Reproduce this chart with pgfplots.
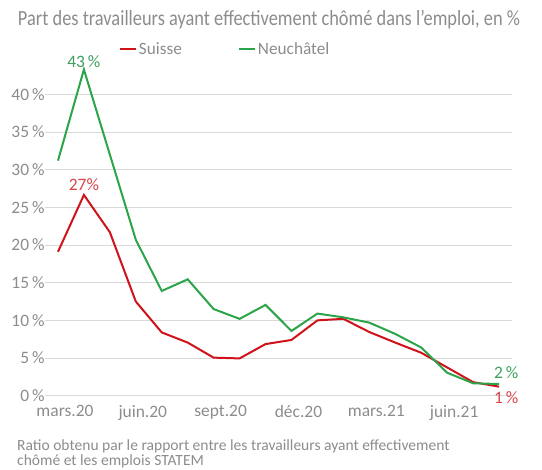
\documentclass[border=0pt]{standalone}
\usepackage{fontspec}
\setmainfont{Carlito}
\newfontfamily\titlefont[FakeStretch=0.85]{Carlito}
\usepackage{pgfplots}
\pgfplotsset{compat=1.18}
\definecolor{sred}{HTML}{D0121B}
\definecolor{ngreen}{HTML}{2CA44A}
\definecolor{lred}{HTML}{D9454A}
\definecolor{lgreen}{HTML}{3E9E5E}
\definecolor{txtgray}{HTML}{8C8C8C}
\definecolor{gridgray}{HTML}{D9D9D9}
\pgfplotstableread{
x suisse neuch
0 19.1 31.2
1 26.65 43.3
2 21.7 32.0
3 12.5 20.7
4 8.4 13.9
5 7.05 15.45
6 5.05 11.5
7 4.95 10.2
8 6.85 12.05
9 7.4 8.6
10 10.0 10.9
11 10.2 10.4
12 8.45 9.7
13 7.05 8.2
14 5.7 6.4
15 3.75 3.05
16 1.8 1.65
17 1.2 1.55
}\datatable
\begin{document}
\begin{tikzpicture}[x=1bp,y=1bp]
\path[use as bounding box] (0,0) rectangle (542,470);
\begin{axis}[
  at={(45bp,74.3bp)}, anchor=south west,
  scale only axis, width=467bp, height=339bp,
  xmin=-0.5, xmax=17.5, ymin=0, ymax=45,
  axis line style={draw=none}, tick style={draw=none},
  ytick={0,5,...,40}, ymajorgrids, grid style={gridgray, line width=1bp},
  xtick={0,3,...,15},
  xticklabels={mars.20,juin.20,sept.20,déc.20,mars.21,juin.21},
  xticklabel style={xshift=7bp, yshift=-6bp},
  yticklabel style={xshift=3bp},
  yticklabel={\pgfmathprintnumber{\tick}\,\%},
  ticklabel style={font=\fontsize{17.5}{19}\selectfont, text=txtgray},
  /pgf/number format/assume math mode=true,
  legend style={at={(0.158,1.023)}, anchor=west, draw=none, fill=none,
    legend columns=2, font=\fontsize{17.3}{19}\selectfont, text=txtgray,
    /tikz/every even column/.style={column sep=54bp}, inner sep=0pt},
  legend image code/.code={\draw[#1, line width=2bp] (0bp,0bp) -- (16bp,0bp);},
  clip=false,
]
\addplot[sred, line width=2bp] table[x=x, y=suisse] {\datatable};
\addlegendentry{Suisse}
\addplot[ngreen, line width=2bp] table[x=x, y=neuch] {\datatable};
\addlegendentry{Neuchâtel}
\node[lgreen, font=\fontsize{17.5}{19}\selectfont] at (axis cs:1,44.3) {43\,\%};
\node[lred, font=\fontsize{17.5}{19}\selectfont] at (axis cs:1,28.0) {27\%};
\node[lgreen, font=\fontsize{17.5}{19}\selectfont] at (axis cs:17.28,3.05) {2\,\%};
\node[lred, font=\fontsize{17.5}{19}\selectfont] at (axis cs:17.28,-0.3) {1\,\%};
\end{axis}
\node[txtgray, font=\titlefont\fontsize{21.7}{23}\selectfont] at (269,450) {Part des travailleurs ayant effectivement chômé dans l’emploi, en \%};
\node[txtgray, font=\fontsize{15.6}{17}\selectfont, anchor=base west, inner sep=0pt] at (17,19) {Ratio obtenu par le rapport entre les travailleurs ayant effectivement};
\node[txtgray, font=\fontsize{15.6}{17}\selectfont, anchor=base west, inner sep=0pt] at (17,4) {chômé et les emplois STATEM};
\end{tikzpicture}
\end{document}
